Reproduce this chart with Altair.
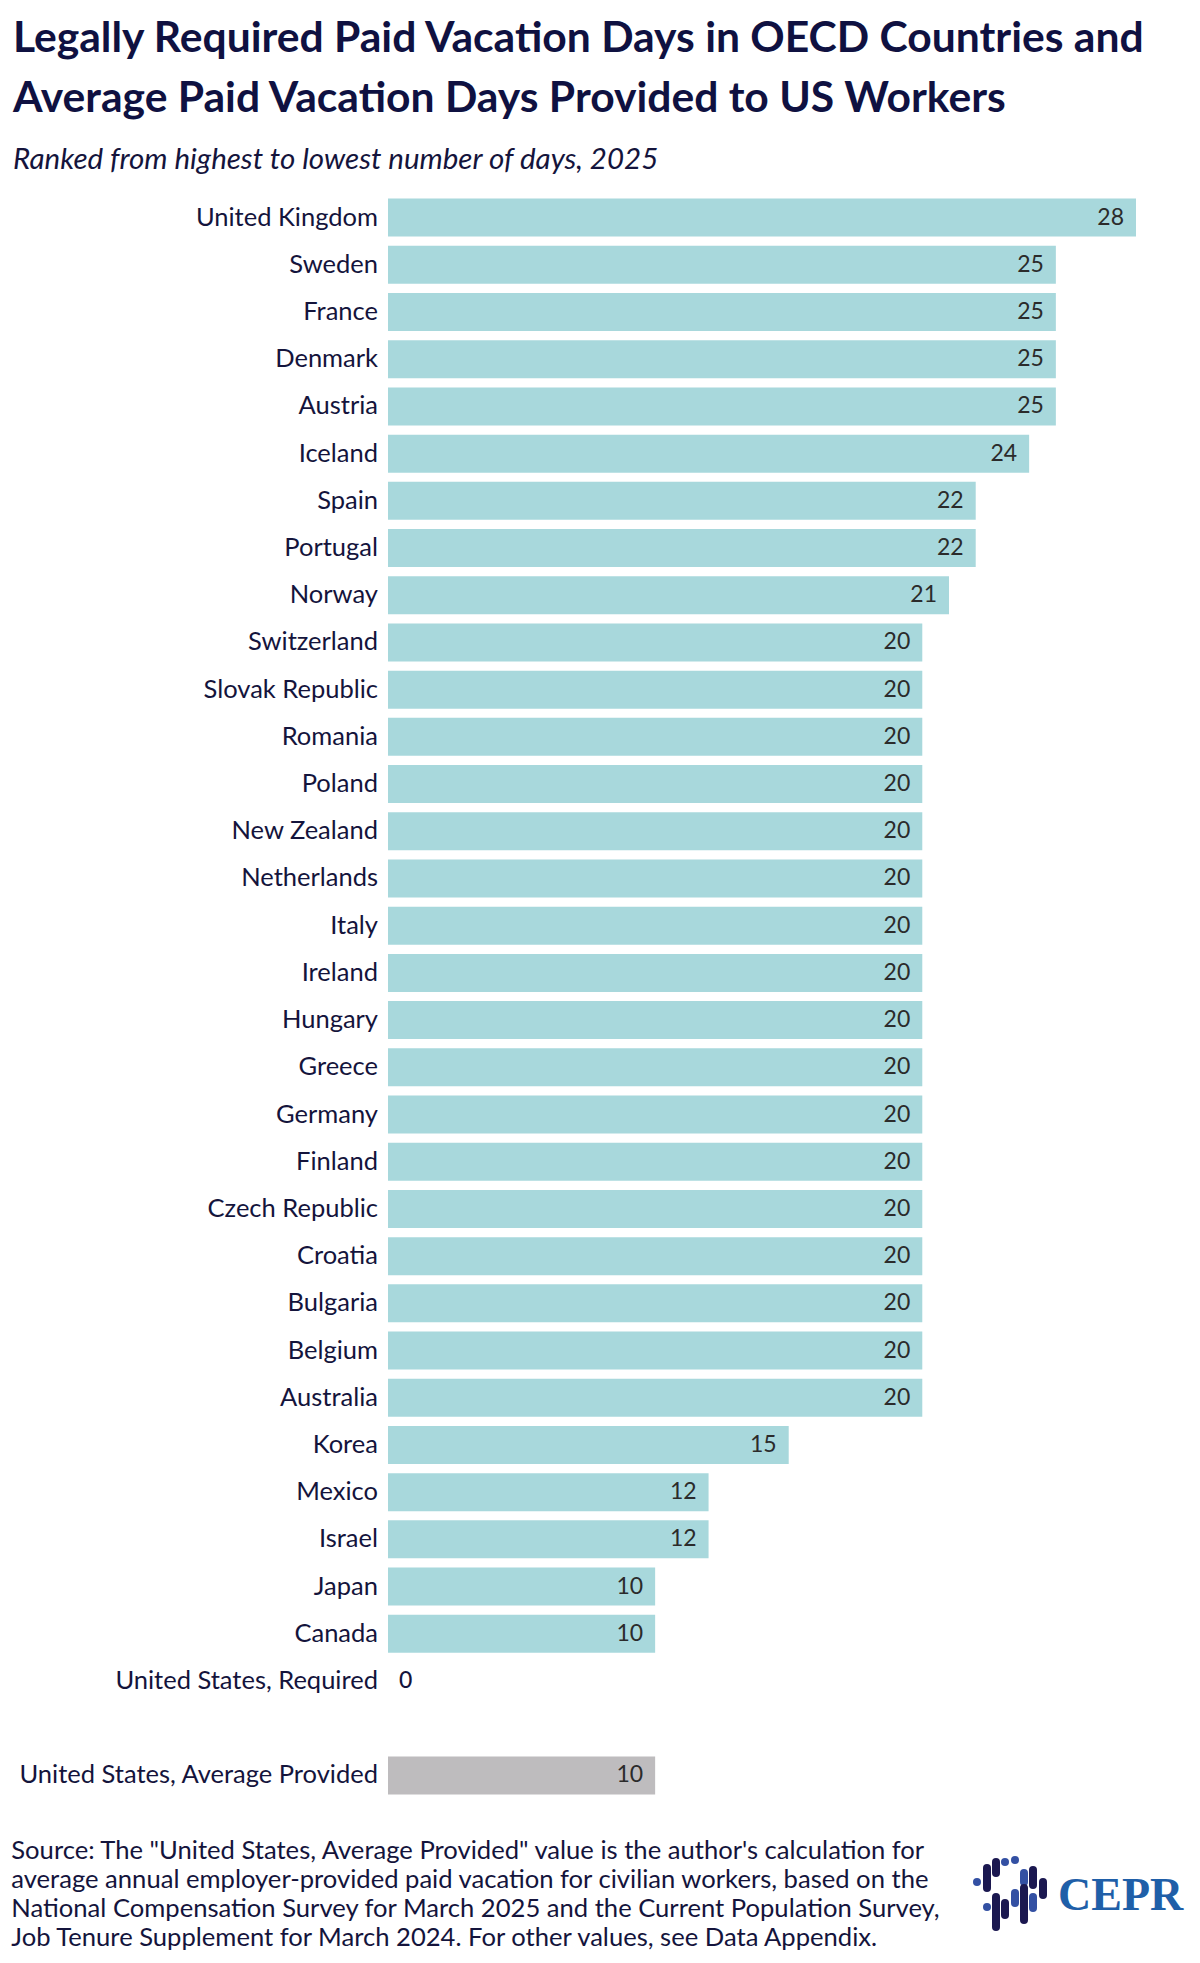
import altair as alt
import pandas as pd

countries = [
    "United Kingdom", "Sweden", "France", "Denmark", "Austria", "Iceland",
    "Spain", "Portugal", "Norway", "Switzerland", "Slovak Republic", "Romania",
    "Poland", "New Zealand", "Netherlands", "Italy", "Ireland", "Hungary",
    "Greece", "Germany", "Finland", "Czech Republic", "Croatia", "Bulgaria",
    "Belgium", "Australia", "Korea", "Mexico", "Israel", "Japan", "Canada",
    "United States, Required", "United States, Average Provided",
]
days = [
    28, 25, 25, 25, 25, 24,
    22, 22, 21, 20, 20, 20,
    20, 20, 20, 20, 20, 20,
    20, 20, 20, 20, 20, 20,
    20, 20, 15, 12, 12, 10, 10,
    0, 10,
]
groups = ["oecd"] * 32 + ["us"]

# empty row between the two US rows
row_order = countries[:32] + [" "] + countries[32:]

title_lines = [
    "Legally Required Paid Vacation Days in OECD Countries and",
    "Average Paid Vacation Days Provided to US Workers",
]
subtitle = "Ranked from highest to lowest number of days, 2025"
source_lines = [
    "Source: The \"United States, Average Provided\" value is the author's calculation for",
    "average annual employer-provided paid vacation for civilian workers, based on the",
    "National Compensation Survey for March 2025 and the Current Population Survey,",
    "Job Tenure Supplement for March 2024. For other values, see Data Appendix.",
]

# CEPR logo strokes (pixel offsets from the plot origin), light and dark ones
logo_light_x = [589, 599, 617, 627, 627, 636, 645]
logo_light_y1 = [1688, 1713, 1668, 1666, 1699, 1679, 1703]
logo_light_y2 = [1688, 1713, 1668, 1666, 1709, 1688, 1714]
logo_dark_x = [599, 608, 608, 617, 636, 645, 655]
logo_dark_y1 = [1674, 1668, 1703, 1709, 1694, 1676, 1688]
logo_dark_y2 = [1694, 1679, 1733, 1721, 1726, 1691, 1701]

FONT = "Lato"
NAVY = "#14143c"

df = pd.DataFrame({"country": countries, "days": days, "group": groups})

W, H = 748, 1605

base = alt.Chart(df).encode(
    y=alt.Y(
        "country:N",
        sort=row_order,
        scale=alt.Scale(domain=row_order, paddingInner=0.195, paddingOuter=0.0975),
        axis=alt.Axis(
            title=None, domain=False, ticks=False, labelPadding=10.5,
            labelFont=FONT, labelFontSize=25.5, labelColor=NAVY, labelLimit=400,
        ),
    ),
)

bars = base.mark_bar().encode(
    x=alt.X("days:Q", scale=alt.Scale(domain=[0, 28], nice=False), axis=None),
    color=alt.Color(
        "group:N",
        scale=alt.Scale(domain=["oecd", "us"], range=["#a8d8dc", "#bebcbe"]),
        legend=None,
    ),
)

values = base.mark_text(
    align="right", dx=-12, font=FONT, fontSize=23, color="#2b2b2b"
).encode(x="days:Q", text="days:Q").transform_filter("datum.days > 0")

zero = base.mark_text(
    align="left", dx=11, font=FONT, fontSize=23, color=NAVY, fontWeight=500
).encode(x="days:Q", text="days:Q").transform_filter("datum.days == 0")

source = alt.Chart(pd.DataFrame({"t": [source_lines]})).mark_text(
    align="left", baseline="alphabetic", font=FONT, fontSize=25.6,
    lineHeight=29, color=NAVY,
).encode(x=alt.value(-376.7), y=alt.value(1665), text="t")


def logo_part(xs, y1s, y2s, colour):
    part = pd.DataFrame({"x": xs, "y1": y1s, "y2": y2s})
    return alt.Chart(part).mark_rule(strokeWidth=8, strokeCap="round").encode(
        x=alt.X("x:Q", scale=None),
        y=alt.Y("y1:Q", scale=None),
        y2="y2:Q",
        color=alt.value(colour),
    )


logo_light = logo_part(logo_light_x, logo_light_y1, logo_light_y2, "#3350a3")
logo_dark = logo_part(logo_dark_x, logo_dark_y1, logo_dark_y2, "#1b1850")

logo_text = alt.Chart(pd.DataFrame({"t": ["CEPR"]})).mark_text(
    align="left", baseline="alphabetic", font="Liberation Serif",
    fontSize=46, fontWeight="bold", color="#1f5fa8",
).encode(x=alt.value(670), y=alt.value(1716), text="t")

chart = alt.layer(
    bars, values, zero, source, logo_light, logo_dark, logo_text
).properties(
    width=W,
    height=H,
    padding={"left": 380, "top": 186, "right": 50, "bottom": 165},
    autosize=alt.AutoSizeParams(type="none"),
    title=alt.TitleParams(
        text=title_lines,
        subtitle=subtitle,
        anchor="start",
        frame="group",
        dx=-375,
        offset=20,
        font=FONT,
        fontSize=42.6,
        fontWeight="bold",
        lineHeight=60,
        color="#0f1141",
        subtitleFont=FONT,
        subtitleFontSize=29.5,
        subtitleFontStyle="italic",
        subtitleColor=NAVY,
        subtitlePadding=25,
    ),
).configure_view(stroke=None)

chart.save("out.html", embed_options={"renderer": "svg", "actions": False})
